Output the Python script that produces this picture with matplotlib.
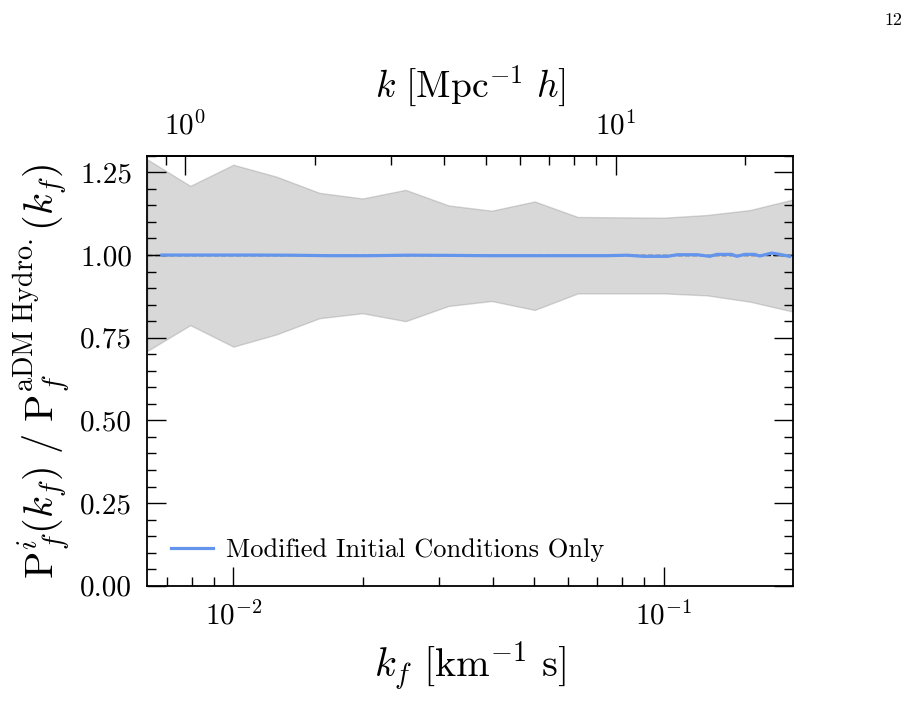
import matplotlib
matplotlib.use("Agg")
import matplotlib.pyplot as plt
from matplotlib.ticker import MultipleLocator, FixedLocator, LogLocator, NullFormatter, FormatStrFormatter

plt.rcParams["mathtext.fontset"] = "cm"
plt.rcParams["font.family"] = "serif"
plt.rcParams["font.serif"] = ["cmr10"]
plt.rcParams["axes.formatter.use_mathtext"] = True
plt.rcParams["axes.unicode_minus"] = False

# ---- data ----
kf_band = [0.00631, 0.00794, 0.0100, 0.01259, 0.01585, 0.01995, 0.02512, 0.03162,
           0.03981, 0.05012, 0.06310, 0.07943, 0.1000, 0.1259, 0.1585, 0.1995]
band_upper = [1.289, 1.209, 1.273, 1.237, 1.188, 1.171, 1.197, 1.150,
              1.134, 1.162, 1.115, 1.114, 1.113, 1.121, 1.136, 1.168]
band_lower = [0.710, 0.788, 0.723, 0.760, 0.809, 0.824, 0.800, 0.846,
              0.861, 0.834, 0.884, 0.884, 0.884, 0.878, 0.859, 0.829]

kf_line = [0.00682, 0.00839, 0.01094, 0.01354, 0.01673, 0.02070, 0.02559, 0.03163,
           0.03911, 0.04835, 0.05978, 0.07391, 0.08218, 0.0896, 0.1019, 0.1075,
           0.1195, 0.1279, 0.1328, 0.1438, 0.1477, 0.1541, 0.1625, 0.1670,
           0.1781, 0.1859, 0.1960]
ratio_line = [1.000, 1.000, 1.000, 0.9995, 0.998, 0.998, 0.9995, 0.999,
              0.998, 0.998, 0.998, 0.998, 0.9995, 0.996, 0.996, 1.001,
              1.001, 0.996, 1.002, 1.002, 0.996, 1.002, 1.002, 0.997,
              1.006, 1.002, 0.996]

top_ticks = [1, 10]
legend_label = "Modified Initial Conditions Only"
kf_to_k = 129.4

fig = plt.figure(figsize=(9.14, 7.22), dpi=100)
ax = fig.add_axes([147.3 / 914, 1 - 585.8 / 722, (793 - 147.3) / 914, (585.8 - 155.8) / 722])

ax.fill_between(kf_band, band_lower, band_upper, color="gray", alpha=0.3, lw=1.0, zorder=1)
ax.axhline(1.0, color="k", ls="--", lw=1.0, zorder=2)
ax.plot(kf_line, ratio_line, color="cornflowerblue", lw=2.3, label=legend_label, zorder=3)

ax.set_xscale("log")
ax.set_xlim(10 ** -2.2, 10 ** -0.7)
ax.set_ylim(0, 1.3)
ax.yaxis.set_major_locator(MultipleLocator(0.25))
ax.yaxis.set_minor_locator(MultipleLocator(0.05))
ax.yaxis.set_major_formatter(FormatStrFormatter("%.2f"))

for s in ax.spines.values():
    s.set_linewidth(1.3)

ax.tick_params(which="both", direction="in", left=True, right=True, top=False, bottom=True,
               labelsize=21, width=1.0)
ax.tick_params(which="major", length=13.5, pad=11)
ax.tick_params(which="minor", length=6.5)

ax.set_xlabel(r"$k_f\ [\mathrm{km}^{-1}\ \mathrm{s}]$", fontsize=29, labelpad=6)
ax.set_ylabel(r"$\mathrm{P}^i_f(k_f)\ /\ \mathrm{P}_f^{\mathrm{aDM\ Hydro.}}(k_f)$", fontsize=29, labelpad=6)

secax = ax.secondary_xaxis("top", functions=(lambda x: x * kf_to_k, lambda x: x / kf_to_k))
secax.xaxis.set_major_locator(FixedLocator(top_ticks))
secax.xaxis.set_minor_locator(LogLocator(base=10, subs=[2, 3, 4, 5, 6, 7, 8, 9]))
secax.xaxis.set_minor_formatter(NullFormatter())
secax.tick_params(which="both", direction="in", labelsize=21, width=1.0)
secax.tick_params(which="major", length=13.5, pad=11)
secax.tick_params(which="minor", length=6.5)
secax.spines["top"].set_linewidth(1.3)
secax.set_xlabel(r"$k\ [\mathrm{Mpc}^{-1}\ h]$", fontsize=27, labelpad=10)

ax.legend(loc="lower left", frameon=False, fontsize=19, handlelength=1.6, handletextpad=0.5)

fig.text(893 / 914, 1 - 20 / 722, "12", fontsize=13, ha="center", va="center")

fig.savefig("out.png", dpi=100)
